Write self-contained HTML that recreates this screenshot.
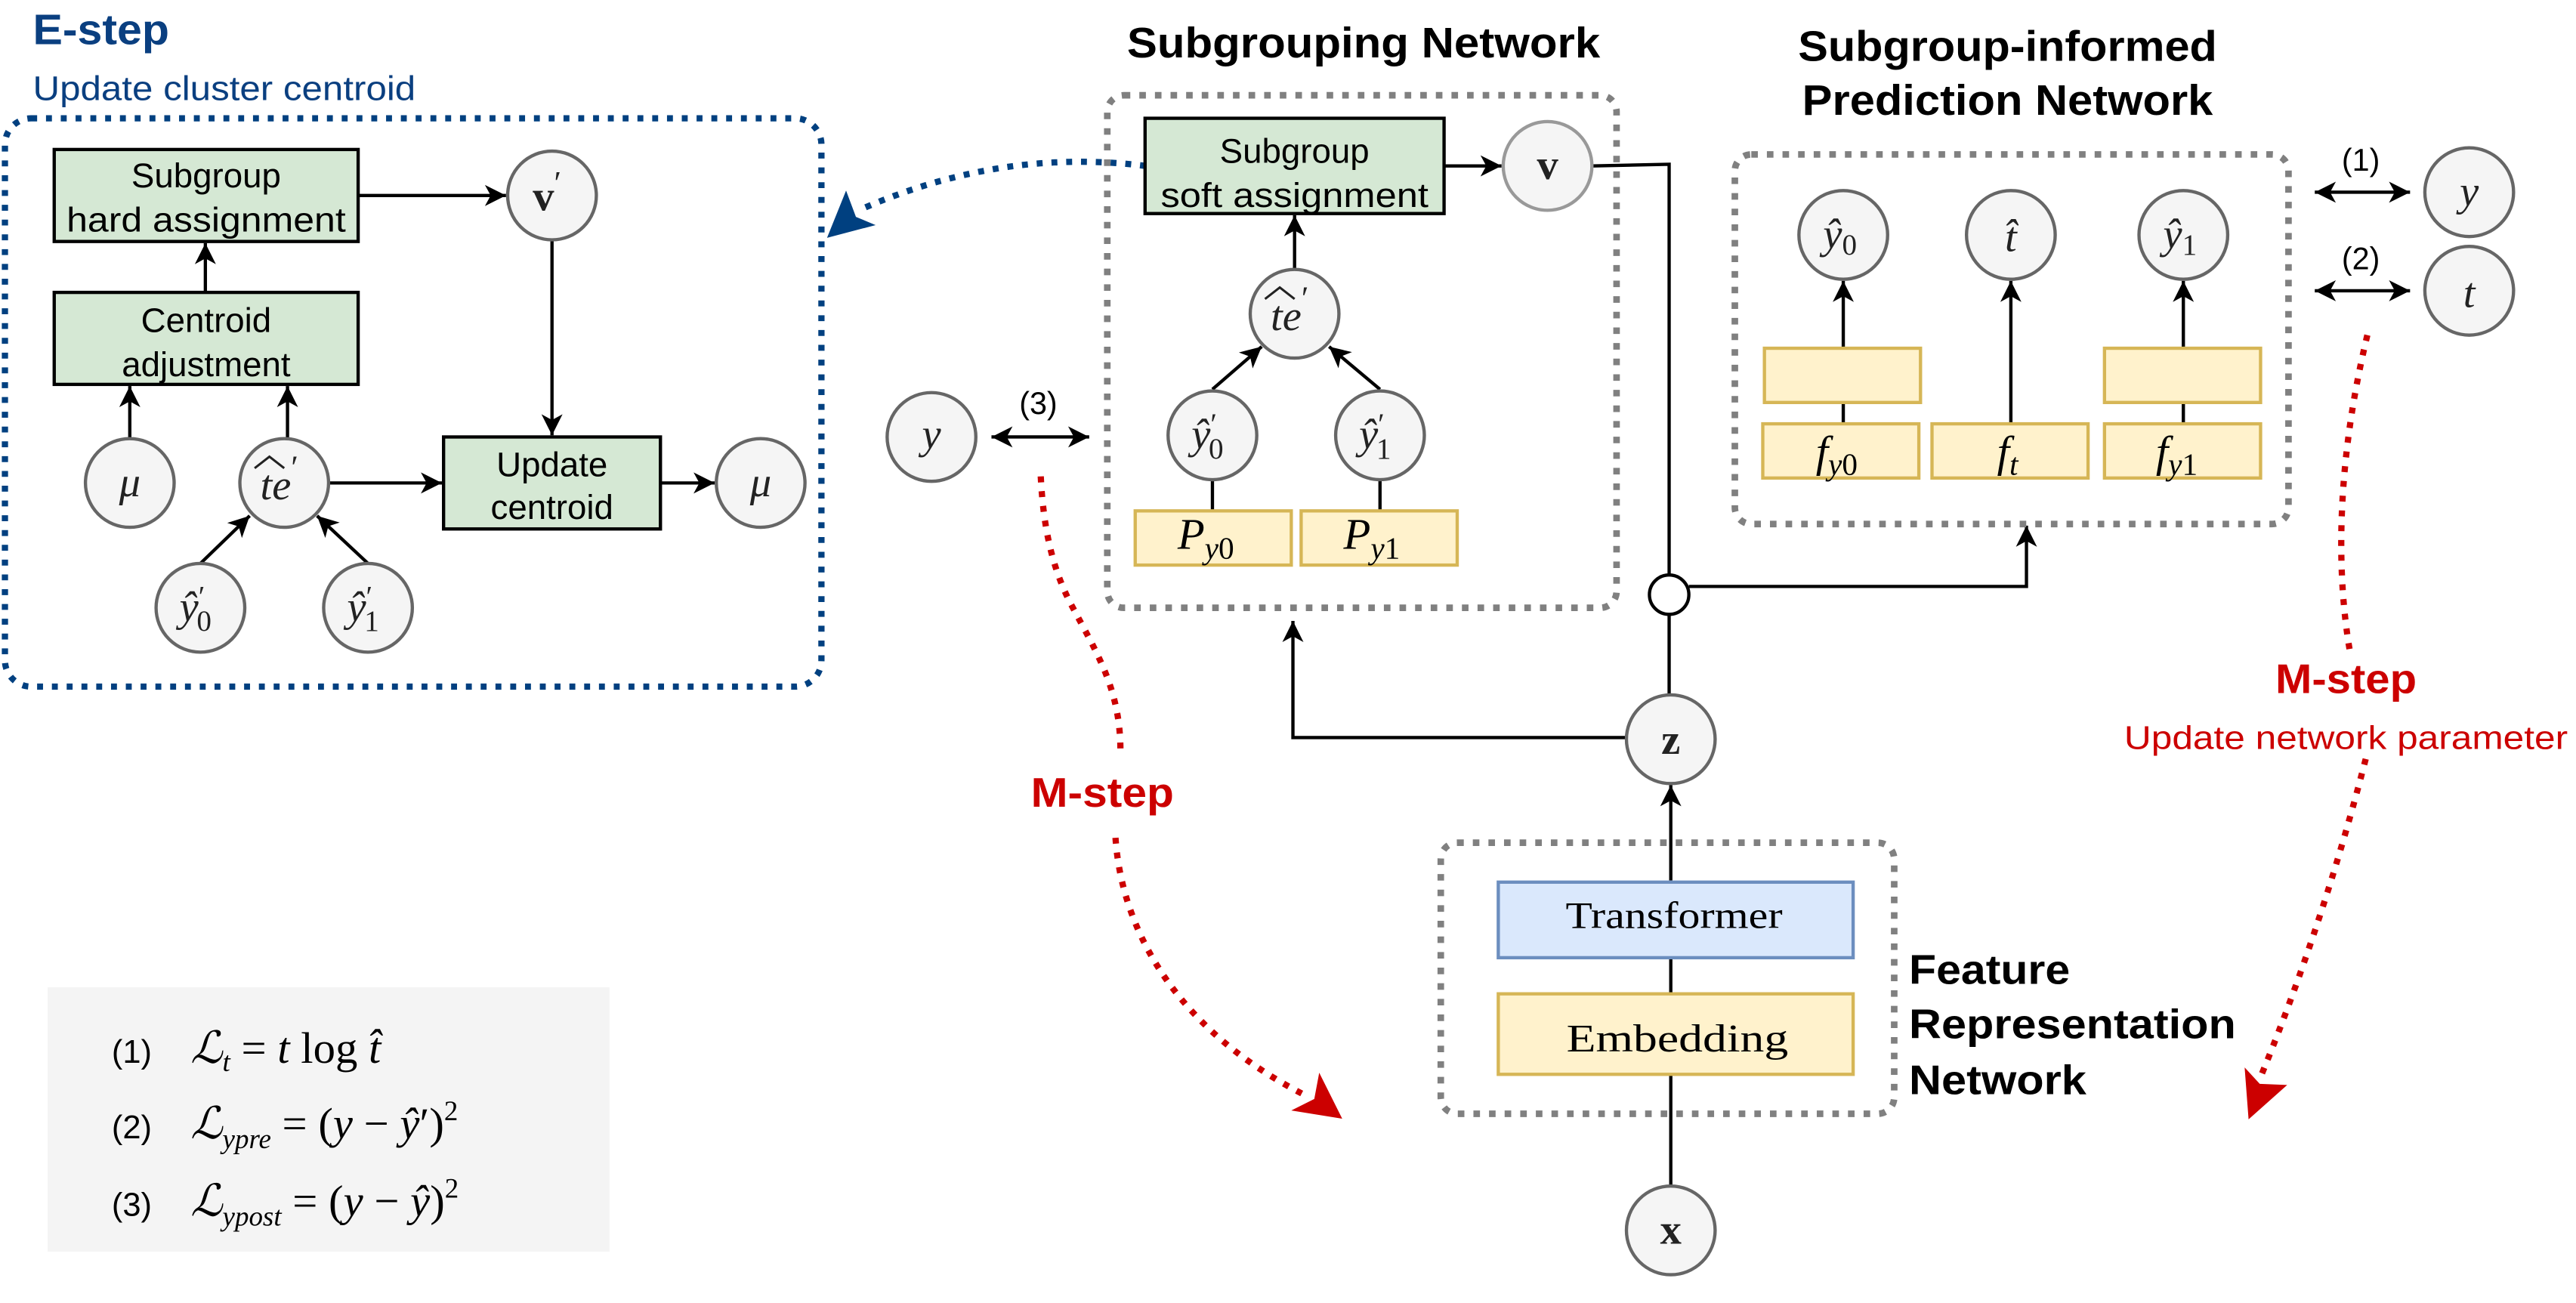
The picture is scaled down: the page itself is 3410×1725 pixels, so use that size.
<!DOCTYPE html>
<html><head><meta charset="utf-8"><style>
html,body{margin:0;padding:0;background:#fff;}
svg{display:block;}
.sans{font-family:"Liberation Sans",Arial,sans-serif;}
.serif{font-family:"Liberation Serif","DejaVu Serif",serif;}
</style></head><body>
<svg width="3410" height="1725" viewBox="0 0 1568 793.2" xmlns="http://www.w3.org/2000/svg">
<defs>
<marker id="ar" markerWidth="14" markerHeight="14" refX="11" refY="5.5" orient="auto" markerUnits="userSpaceOnUse" viewBox="0 0 12 11">
<path d="M0,0 L11,5.5 L0,11 L3,5.5 Z" fill="#000"/></marker>
<marker id="al" markerWidth="14" markerHeight="14" refX="0" refY="5.5" orient="auto" markerUnits="userSpaceOnUse" viewBox="0 0 12 11">
<path d="M11,0 L0,5.5 L11,11 L8,5.5 Z" fill="#000"/></marker>
</defs>
<rect width="1568" height="793.2" fill="#fff"/>

<!-- E-step -->
<text x="20" y="27" class="sans" font-weight="bold" font-size="26" fill="#0a3f80" textLength="83" lengthAdjust="spacingAndGlyphs">E-step</text>
<text x="20" y="61" class="sans" font-size="21" fill="#0a3f80" textLength="233" lengthAdjust="spacingAndGlyphs">Update cluster centroid</text>
<rect x="3" y="72" width="497" height="346" rx="16" fill="none" stroke="#004080" stroke-width="3.8" stroke-dasharray="3.6 5.4"/>

<g stroke="#000" stroke-width="2" fill="none">
<line x1="218" y1="119" x2="308" y2="119" marker-end="url(#ar)"/>
<line x1="125" y1="178" x2="125" y2="148" marker-end="url(#ar)"/>
<line x1="79" y1="267" x2="79" y2="235" marker-end="url(#ar)"/>
<line x1="175" y1="267" x2="175" y2="235" marker-end="url(#ar)"/>
<line x1="336" y1="146" x2="336" y2="265" marker-end="url(#ar)"/>
<line x1="200" y1="294" x2="269" y2="294" marker-end="url(#ar)"/>
<line x1="402" y1="294" x2="435" y2="294" marker-end="url(#ar)"/>
<line x1="122" y1="343" x2="152" y2="314" marker-end="url(#ar)"/>
<line x1="224" y1="343" x2="193" y2="314" marker-end="url(#ar)"/>
</g>
<rect x="33" y="91" width="185" height="56" fill="#d5e8d4" stroke="#000" stroke-width="2"/>
<text x="125.5" y="114" text-anchor="middle" class="sans" font-size="21">Subgroup</text>
<text x="125.5" y="141" text-anchor="middle" class="sans" font-size="21" textLength="170" lengthAdjust="spacingAndGlyphs">hard assignment</text>
<rect x="33" y="178" width="185" height="56" fill="#d5e8d4" stroke="#000" stroke-width="2"/>
<text x="125.5" y="202" text-anchor="middle" class="sans" font-size="21">Centroid</text>
<text x="125.5" y="229" text-anchor="middle" class="sans" font-size="21">adjustment</text>
<rect x="270" y="266" width="132" height="56" fill="#d5e8d4" stroke="#000" stroke-width="2"/>
<text x="336" y="290" text-anchor="middle" class="sans" font-size="21">Update</text>
<text x="336" y="316" text-anchor="middle" class="sans" font-size="21">centroid</text>

<g fill="#f5f5f5" stroke="#666" stroke-width="2">
<circle cx="336" cy="119" r="27"/>
<circle cx="79" cy="294" r="27"/>
<circle cx="173" cy="294" r="27"/>
<circle cx="463" cy="294" r="27"/>
<circle cx="122" cy="370" r="27"/>
<circle cx="224" cy="370" r="27"/>
</g>
<g class="serif" font-size="26" fill="#222">
<text x="333" y="128" text-anchor="middle" font-weight="bold">v<tspan font-weight="normal" font-size="20" dy="-10">′</tspan></text>
<text x="79" y="302" text-anchor="middle" font-style="italic">μ</text>
<text x="463" y="302" text-anchor="middle" font-style="italic">μ</text>
<text x="170" y="304" text-anchor="middle" font-style="italic">te<tspan font-style="normal" font-size="20" dy="-13">′</tspan></text>
<text x="119" y="378" text-anchor="middle" font-style="italic">ŷ<tspan font-style="normal" font-size="18" dy="-9">′</tspan><tspan font-style="normal" font-size="18" dx="-5" dy="15">0</tspan></text>
<text x="221" y="378" text-anchor="middle" font-style="italic">ŷ<tspan font-style="normal" font-size="18" dy="-9">′</tspan><tspan font-style="normal" font-size="18" dx="-5" dy="15">1</tspan></text>
</g>
<path d="M155,285 L164,278 L173,285" fill="none" stroke="#222" stroke-width="1.4"/>

<!-- blue dotted arrow -->
<path d="M697.5,101 Q610,90 525,127" fill="none" stroke="#004080" stroke-width="3.8" stroke-dasharray="3.6 5.4"/>
<path d="M503.4,144.8 L515,116 L521,132 L533,137 Z" fill="#004080"/>

<!-- Subgrouping network -->
<text x="830" y="35" text-anchor="middle" class="sans" font-weight="bold" font-size="26" textLength="288" lengthAdjust="spacingAndGlyphs">Subgrouping Network</text>
<rect x="674" y="58" width="310" height="312" rx="10" fill="none" stroke="#808080" stroke-width="4" stroke-dasharray="4 5.5"/>
<g stroke="#000" stroke-width="2" fill="none">
<line x1="879" y1="101" x2="914" y2="101" marker-end="url(#ar)"/>
<line x1="788" y1="164" x2="788" y2="131" marker-end="url(#ar)"/>
<line x1="738" y1="237" x2="768" y2="211" marker-end="url(#ar)"/>
<line x1="840" y1="237" x2="809" y2="211" marker-end="url(#ar)"/>
<line x1="738" y1="292" x2="738" y2="311"/>
<line x1="840" y1="292" x2="840" y2="311"/>
<line x1="603.5" y1="266" x2="663" y2="266" marker-start="url(#al)" marker-end="url(#ar)"/>
<polyline points="969,101 1016,100 1016,350"/>
<line x1="1016" y1="374" x2="1016" y2="423"/>
<polyline points="1028,357 1233.5,357 1233.5,320" marker-end="url(#ar)"/>
<polyline points="990,449 787,449 787,378" marker-end="url(#ar)"/>
<line x1="1017" y1="722" x2="1017" y2="654"/>
<line x1="1017" y1="605" x2="1017" y2="583"/>
<line x1="1017" y1="536" x2="1017" y2="478" marker-end="url(#ar)"/>
</g>
<circle cx="1016" cy="362" r="12" fill="#fff" stroke="#000" stroke-width="2"/>
<rect x="697" y="72" width="182" height="58" fill="#d5e8d4" stroke="#000" stroke-width="2"/>
<text x="788" y="99" text-anchor="middle" class="sans" font-size="21">Subgroup</text>
<text x="788" y="126" text-anchor="middle" class="sans" font-size="21" textLength="163" lengthAdjust="spacingAndGlyphs">soft assignment</text>
<rect x="691" y="311" width="95" height="33" fill="#fff2cc" stroke="#d6b656" stroke-width="2"/>
<rect x="792" y="311" width="95" height="33" fill="#fff2cc" stroke="#d6b656" stroke-width="2"/>
<g class="serif" font-size="27" font-style="italic">
<text x="734" y="334" text-anchor="middle">P<tspan font-size="19" dy="6">y</tspan><tspan font-style="normal" font-size="19">0</tspan></text>
<text x="835" y="334" text-anchor="middle">P<tspan font-size="19" dy="6">y</tspan><tspan font-style="normal" font-size="19">1</tspan></text>
</g>
<g fill="#f5f5f5" stroke="#666" stroke-width="2">
<circle cx="942" cy="101" r="27" stroke="#999"/>
<circle cx="788" cy="191" r="27"/>
<circle cx="738" cy="265" r="27"/>
<circle cx="840" cy="265" r="27"/>
<circle cx="567" cy="266" r="27"/>
<circle cx="1017" cy="450" r="27"/>
<circle cx="1017" cy="749" r="27"/>
</g>
<g class="serif" font-size="26" fill="#222">
<text x="942" y="109" text-anchor="middle" font-weight="bold">v</text>
<text x="785" y="201" text-anchor="middle" font-style="italic">te<tspan font-style="normal" font-size="20" dy="-13">′</tspan></text>
<text x="735" y="273" text-anchor="middle" font-style="italic">ŷ<tspan font-style="normal" font-size="18" dy="-9">′</tspan><tspan font-style="normal" font-size="18" dx="-5" dy="15">0</tspan></text>
<text x="837" y="273" text-anchor="middle" font-style="italic">ŷ<tspan font-style="normal" font-size="18" dy="-9">′</tspan><tspan font-style="normal" font-size="18" dx="-5" dy="15">1</tspan></text>
<text x="567" y="273" text-anchor="middle" font-style="italic">y</text>
<text x="1017" y="459" text-anchor="middle" font-weight="bold">z</text>
<text x="1017" y="757" text-anchor="middle" font-weight="bold">x</text>
</g>
<path d="M770,182 L779,175 L788,182" fill="none" stroke="#222" stroke-width="1.4"/>
<text x="632" y="252" text-anchor="middle" class="sans" font-size="19">(3)</text>

<!-- Prediction network -->
<text x="1222" y="37" text-anchor="middle" class="sans" font-weight="bold" font-size="26" textLength="255" lengthAdjust="spacingAndGlyphs">Subgroup-informed</text>
<text x="1222" y="70" text-anchor="middle" class="sans" font-weight="bold" font-size="26" textLength="250" lengthAdjust="spacingAndGlyphs">Prediction Network</text>
<rect x="1056" y="94" width="337" height="225" rx="10" fill="none" stroke="#808080" stroke-width="4" stroke-dasharray="4 5.5"/>
<g stroke="#000" stroke-width="2" fill="none">
<line x1="1122" y1="258" x2="1122" y2="245"/>
<line x1="1329" y1="258" x2="1329" y2="245"/>
<line x1="1122" y1="212" x2="1122" y2="171" marker-end="url(#ar)"/>
<line x1="1329" y1="212" x2="1329" y2="171" marker-end="url(#ar)"/>
<line x1="1224" y1="258" x2="1224" y2="171" marker-end="url(#ar)"/>
<line x1="1409" y1="117" x2="1467" y2="117" marker-start="url(#al)" marker-end="url(#ar)"/>
<line x1="1409" y1="177" x2="1467" y2="177" marker-start="url(#al)" marker-end="url(#ar)"/>
</g>
<g fill="#fff2cc" stroke="#d6b656" stroke-width="2">
<rect x="1074" y="212" width="95" height="33"/>
<rect x="1281" y="212" width="95" height="33"/>
<rect x="1073" y="258" width="95" height="33"/>
<rect x="1176" y="258" width="95" height="33"/>
<rect x="1281" y="258" width="95" height="33"/>
</g>
<g class="serif" font-size="27" font-style="italic">
<text x="1118" y="284" text-anchor="middle">f<tspan font-size="19" dy="5">y</tspan><tspan font-style="normal" font-size="19">0</tspan></text>
<text x="1222" y="284" text-anchor="middle">f<tspan font-size="19" dy="5">t</tspan></text>
<text x="1325" y="284" text-anchor="middle">f<tspan font-size="19" dy="5">y</tspan><tspan font-style="normal" font-size="19">1</tspan></text>
</g>
<g fill="#f5f5f5" stroke="#666" stroke-width="2">
<circle cx="1122" cy="143" r="27"/>
<circle cx="1224" cy="143" r="27"/>
<circle cx="1329" cy="143" r="27"/>
<circle cx="1503" cy="117" r="27"/>
<circle cx="1503" cy="177" r="27"/>
</g>
<g class="serif" font-size="26" fill="#222" font-style="italic">
<text x="1120" y="151" text-anchor="middle">ŷ<tspan font-style="normal" font-size="18" dy="4">0</tspan></text>
<text x="1224" y="153" text-anchor="middle">t̂</text>
<text x="1327" y="151" text-anchor="middle">ŷ<tspan font-style="normal" font-size="18" dy="4">1</tspan></text>
<text x="1503" y="125" text-anchor="middle">y</text>
<text x="1503" y="187" text-anchor="middle">t</text>
</g>
<text x="1437" y="104" text-anchor="middle" class="sans" font-size="19">(1)</text>
<text x="1437" y="164" text-anchor="middle" class="sans" font-size="19">(2)</text>

<!-- Feature representation -->
<rect x="877" y="513" width="276" height="165" rx="10" fill="none" stroke="#808080" stroke-width="4" stroke-dasharray="4 5.5"/>
<rect x="912" y="537" width="216" height="46" fill="#dae8fc" stroke="#6c8ebf" stroke-width="2"/>
<rect x="912" y="605" width="216" height="49" fill="#fff2cc" stroke="#d6b656" stroke-width="2"/>
<text x="1019" y="565" text-anchor="middle" class="serif" font-size="23" textLength="132" lengthAdjust="spacingAndGlyphs">Transformer</text>
<text x="1021" y="640" text-anchor="middle" class="serif" font-size="24" textLength="135" lengthAdjust="spacingAndGlyphs">Embedding</text>
<g class="sans" font-weight="bold" font-size="25">
<text x="1162" y="599" textLength="98" lengthAdjust="spacingAndGlyphs">Feature</text>
<text x="1162" y="632" textLength="199" lengthAdjust="spacingAndGlyphs">Representation</text>
<text x="1162" y="666" textLength="108" lengthAdjust="spacingAndGlyphs">Network</text>
</g>

<!-- M-step red -->
<g fill="none" stroke="#cc0000" stroke-width="3.8" stroke-dasharray="3.6 5.4">
<path d="M633.5,290 C635,320 640,345 652,368 C668,398 682,420 682,457"/>
<path d="M679,510 C683,570 720,630 797,668"/>
<path d="M1441,204 C1425,270 1420,340 1431,400"/>
<path d="M1440,462 C1420,540 1395,610 1375,658"/>
</g>
<path d="M817,681 L803,653 L800,669 L786,676 Z" fill="#cc0000"/>
<path d="M1368.7,681.4 L1366.3,649.8 L1375.5,659.8 L1392.2,660.5 Z" fill="#cc0000"/>
<text x="671" y="491" text-anchor="middle" class="sans" font-weight="bold" font-size="25" fill="#cc0000" textLength="87" lengthAdjust="spacingAndGlyphs">M-step</text>
<text x="1428" y="422" text-anchor="middle" class="sans" font-weight="bold" font-size="25" fill="#cc0000" textLength="86" lengthAdjust="spacingAndGlyphs">M-step</text>
<text x="1428" y="456" text-anchor="middle" class="sans" font-size="20" fill="#cc0000" textLength="270" lengthAdjust="spacingAndGlyphs">Update network parameter</text>

<!-- legend -->
<rect x="29" y="601" width="342" height="161" fill="#f4f4f4"/>
<g class="sans" font-size="20">
<text x="68" y="647">(1)</text>
<text x="68" y="693">(2)</text>
<text x="68" y="740">(3)</text>
</g>
<g class="serif" font-size="27">
<text x="116" y="647"><tspan font-style="italic">ℒ</tspan><tspan font-style="italic" font-size="17" dy="5">t</tspan><tspan dy="-5"> = </tspan><tspan font-style="italic">t</tspan> log <tspan font-style="italic">t̂</tspan></text>
<text x="116" y="693"><tspan font-style="italic">ℒ</tspan><tspan font-style="italic" font-size="17" dy="6">ypre</tspan><tspan dy="-6"> = (</tspan><tspan font-style="italic">y</tspan> − <tspan font-style="italic">ŷ</tspan>′)<tspan font-size="17" dy="-11">2</tspan></text>
<text x="116" y="740"><tspan font-style="italic">ℒ</tspan><tspan font-style="italic" font-size="17" dy="6">ypost</tspan><tspan dy="-6"> = (</tspan><tspan font-style="italic">y</tspan> − <tspan font-style="italic">ŷ</tspan>)<tspan font-size="17" dy="-11">2</tspan></text>
</g>
</svg>
</body></html>
